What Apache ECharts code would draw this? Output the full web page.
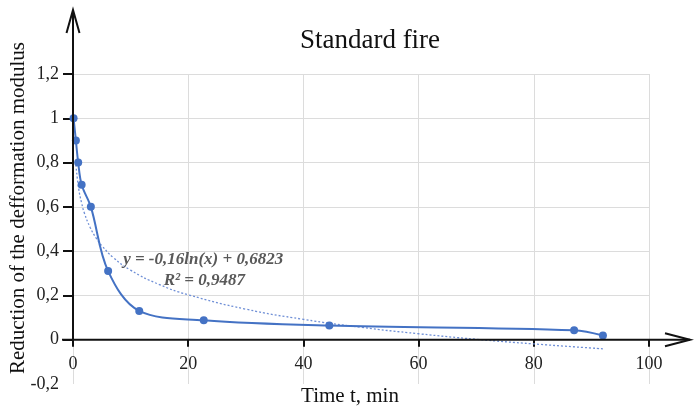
<!DOCTYPE html>
<html>
<head>
<meta charset="utf-8">
<script src="https://cdn.jsdelivr.net/npm/echarts@6/dist/echarts.min.js"></script>
<style>
html,body{margin:0;padding:0;background:#fff;}
#c{width:695px;height:413px;}
</style>
</head>
<body>
<div id="c"></div>
<script>
// Measured data (Time t, min vs. reduction of the deformation modulus)
var timeMin = [0.1, 0.5, 0.9, 1.5, 3.1, 6.1, 11.5, 22.7, 44.5, 87, 92];
var reduction = [1.0, 0.9, 0.8, 0.7, 0.6, 0.31, 0.13, 0.088, 0.064, 0.043, 0.019];
// Logarithmic trendline
var trendX = [0.5, 1, 1.5, 2, 3, 4, 5, 7, 10, 15, 20, 30, 40, 50, 60, 70, 80, 92];
var trendY = [0.79, 0.68, 0.617, 0.57, 0.506, 0.46, 0.425, 0.371, 0.314, 0.249, 0.203, 0.138, 0.092, 0.056, 0.027, 0.002, -0.019, -0.041];
var xTicks = [0, 20, 40, 60, 80, 100];
var yTicks = [-0.2, 0, 0.2, 0.4, 0.6, 0.8, 1, 1.2];
var yTickMarks = [0, 0.2, 0.4, 0.6, 0.8, 1, 1.2];
var titleText = 'Standard fire';
var xName = 'Time t, min';
var yName = 'Reduction of the defformation modulus';
var eqText = 'y = -0,16ln(x) + 0,6823';
var r2Text = 'R² = 0,9487';

var FONT = '"Liberation Serif", "Times New Roman", serif';
var chart = echarts.init(document.getElementById('c'), null, {renderer: 'canvas'});

function pairs(xs, ys) { return xs.map(function (x, i) { return [x, ys[i]]; }); }
function fmt(v) { return String(+(+v).toFixed(1)).replace('.', ','); }

var gridSpec = {left: 73, right: 46, top: 74, bottom: 29};

chart.setOption({
  animation: false,
  backgroundColor: '#ffffff',
  title: {
    text: titleText, left: 365, top: 22, textAlign: 'center',
    textStyle: {fontFamily: FONT, fontSize: 27, fontWeight: 'normal', color: '#111'}
  },
  grid: [
    {left: gridSpec.left, right: gridSpec.right, top: gridSpec.top, bottom: gridSpec.bottom, containLabel: false},
    // helper grid whose bottom edge sits on y = 0 of the main grid (for x tick labels)
    {left: gridSpec.left, right: gridSpec.right, top: gridSpec.top, bottom: 73, containLabel: false}
  ],
  xAxis: [
    {
      gridIndex: 0, type: 'value', min: xTicks[0], max: xTicks[xTicks.length - 1], interval: 20,
      axisLine: {show: false}, axisTick: {show: false}, axisLabel: {show: false},
      splitLine: {show: true, lineStyle: {color: '#dcdcdc', width: 1}}
    },
    {
      gridIndex: 1, type: 'value', min: xTicks[0], max: xTicks[xTicks.length - 1], interval: 20,
      axisLine: {show: false},
      axisTick: {show: true, length: 7, lineStyle: {color: '#111', width: 2}},
      axisLabel: {margin: 16, fontFamily: FONT, fontSize: 18, color: '#222'},
      splitLine: {show: false}
    }
  ],
  yAxis: [
    {
      gridIndex: 0, type: 'value', min: yTicks[0], max: yTicks[yTicks.length - 1], interval: 0.2,
      axisLine: {show: false},
      axisTick: {show: true, length: 10, lineStyle: {color: '#111', width: 2}, customValues: yTickMarks},
      axisLabel: {margin: 14, fontFamily: FONT, fontSize: 18, color: '#222', formatter: fmt, customValues: yTicks},
      splitLine: {show: true, lineStyle: {color: '#dcdcdc', width: 1}}
    },
    {
      gridIndex: 1, type: 'value', min: 0, max: 1.2, show: false
    }
  ],
  series: [
    {
      type: 'line', xAxisIndex: 0, yAxisIndex: 0, data: pairs(trendX, trendY), smooth: true, showSymbol: false, symbol: 'none',
      lineStyle: {color: '#6f8fd6', width: 1.3, type: [2, 2]}, z: 2
    },
    {
      type: 'line', xAxisIndex: 0, yAxisIndex: 0, data: pairs(timeMin, reduction), smooth: 0.35,
      symbol: 'circle', symbolSize: 8,
      itemStyle: {color: '#4472C4'},
      lineStyle: {color: '#4472C4', width: 2}, z: 3
    }
  ]
});

// Axis decorations (arrows) and annotation texts placed through the chart's scales
var pOrigin = chart.convertToPixel({gridIndex: 0}, [0, 0]);
var pTop = chart.convertToPixel({gridIndex: 0}, [0, 1.2]);
var pRight = chart.convertToPixel({gridIndex: 0}, [100, 0]);
var eqPos = chart.convertToPixel({gridIndex: 0}, [22.6, 0.362]);
var r2Pos = chart.convertToPixel({gridIndex: 0}, [22.8, 0.265]);
var yTop = pTop[1] - 64;
var xEnd = pRight[0] + 41;
var ls = {stroke: '#111', lineWidth: 2, fill: null};
chart.setOption({
  grid: [{}, {bottom: 413 - pOrigin[1]}],
  graphic: [
    {type: 'line', shape: {x1: pOrigin[0], y1: pOrigin[1] + 1, x2: pOrigin[0], y2: yTop}, style: ls, z: 100},
    {type: 'polyline', shape: {points: [[pOrigin[0] - 6.5, yTop + 23], [pOrigin[0], yTop], [pOrigin[0] + 6.5, yTop + 23]]}, style: ls, z: 100},
    {type: 'line', shape: {x1: pOrigin[0] - 11, y1: pOrigin[1], x2: xEnd, y2: pOrigin[1]}, style: ls, z: 100},
    {type: 'polyline', shape: {points: [[xEnd - 25, pOrigin[1] - 6.5], [xEnd, pOrigin[1]], [xEnd - 25, pOrigin[1] + 6.5]]}, style: ls, z: 100},
    {type: 'text', x: eqPos[0], y: eqPos[1], z: 100,
      style: {text: eqText, font: 'italic bold 17px ' + FONT, fill: '#595959', textAlign: 'center', textVerticalAlign: 'middle'}},
    {type: 'text', x: r2Pos[0], y: r2Pos[1], z: 100,
      style: {text: r2Text, font: 'italic bold 17px ' + FONT, fill: '#595959', textAlign: 'center', textVerticalAlign: 'middle'}},
    {type: 'text', x: 350, y: 396, z: 100,
      style: {text: xName, font: '21px ' + FONT, fill: '#111', textAlign: 'center', textVerticalAlign: 'middle'}},
    {type: 'text', x: 18, y: 208, rotation: Math.PI / 2, z: 100,
      style: {text: yName, font: '21px ' + FONT, fill: '#111', textAlign: 'center', textVerticalAlign: 'middle'}}
  ]
});
</script>
</body>
</html>
